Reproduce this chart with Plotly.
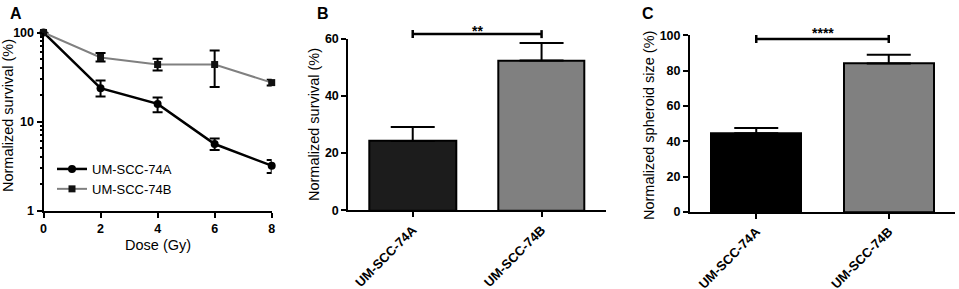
import plotly.graph_objects as go

# ---------------- data ----------------
dose = [0, 2, 4, 6, 8]
surv_74A = [100, 23.7, 15.8, 5.6, 3.2]
surv_74A_err_hi = [0, 5.2, 2.9, 0.85, 0.5]
surv_74A_err_lo = [0, 4.6, 3.1, 0.8, 0.55]
surv_74B = [100, 52.4, 43.7, 43.7, 27.4]
surv_74B_err_hi = [0, 6.3, 7.0, 19.1, 2.0]
surv_74B_err_lo = [0, 5.2, 6.3, 19.2, 2.0]

cell_lines = ["UM-SCC-74A", "UM-SCC-74B"]
clono_survival = [24.2, 52.4]
clono_err = [4.9, 6.1]
spheroid_size = [44.5, 84.1]
spheroid_err = [3.0, 4.9]

sig_B = "**"
sig_C = "****"

log_major = [1, 10, 100]
log_minor = [2, 3, 4, 5, 6, 7, 8, 9, 20, 30, 40, 50, 60, 70, 80, 90]

FONT = "Liberation Sans, Arial, sans-serif"
W, H = 959, 289


def px(xp):
    return xp / W


def py(yp):
    return 1 - yp / H


fig = go.Figure()

# ---- Panel A ----
fig.add_trace(go.Scatter(
    x=dose, y=surv_74A, name="UM-SCC-74A", mode="lines+markers",
    line=dict(color="black", width=2.5),
    marker=dict(symbol="circle", size=8, color="black"),
    error_y=dict(type="data", symmetric=False, array=surv_74A_err_hi,
                 arrayminus=surv_74A_err_lo, color="black", thickness=2, width=5),
    cliponaxis=False, xaxis="x", yaxis="y",
))
fig.add_trace(go.Scatter(
    x=dose, y=surv_74B, name="UM-SCC-74B", mode="lines+markers",
    line=dict(color="#808080", width=2),
    marker=dict(symbol="square", size=7, color="#111111"),
    error_y=dict(type="data", symmetric=False, array=surv_74B_err_hi,
                 arrayminus=surv_74B_err_lo, color="black", thickness=2, width=5),
    cliponaxis=False, xaxis="x", yaxis="y",
))

# ---- Panel B ----
fig.add_trace(go.Bar(
    x=cell_lines, y=clono_survival, width=0.67,
    marker=dict(color=["#1c1c1c", "#808080"], line=dict(color="black", width=2)),
    error_y=dict(type="data", symmetric=False, array=clono_err, arrayminus=[0, 0],
                 color="black", thickness=2, width=22),
    showlegend=False, xaxis="x2", yaxis="y2",
))

# ---- Panel C ----
fig.add_trace(go.Bar(
    x=cell_lines, y=spheroid_size, width=0.68,
    marker=dict(color=["#000000", "#808080"], line=dict(color="black", width=2)),
    error_y=dict(type="data", symmetric=False, array=spheroid_err, arrayminus=[0, 0],
                 color="black", thickness=2, width=22),
    showlegend=False, xaxis="x3", yaxis="y3",
))

tickfont = dict(family=FONT, size=12.5, color="black", weight="bold")
catfont = dict(family=FONT, size=13, color="black", weight="bold")
common = dict(showline=True, linewidth=2, linecolor="black", ticks="outside",
              ticklen=5, tickwidth=2, tickcolor="black", showgrid=False,
              zeroline=False, fixedrange=True, automargin=False)

dom_y1 = [py(210.7), py(32.5)]
dom_y2 = [py(210.3), py(38.7)]
dom_y3 = [py(212), py(35.3)]
rng_y2 = [0, 60]
rng_y3 = [0, 100]

fig.update_layout(
    template="none",
    width=W, height=H, autosize=False,
    margin=dict(l=0, r=0, t=0, b=0, pad=0, autoexpand=False),
    paper_bgcolor="white", plot_bgcolor="white",
    font=dict(family=FONT, color="black"),
    bargap=0,
    xaxis=dict(domain=[px(43.5), px(271.7)], range=[0, 8], tickvals=dose,
               anchor="y", tickfont=tickfont, **common),
    yaxis=dict(domain=dom_y1, type="log", range=[0, 2],
               tickvals=log_major, ticktext=[str(v) for v in log_major], anchor="x",
               tickfont=tickfont, **common),
    yaxis4=dict(domain=dom_y1, type="log", range=[0, 2], overlaying="y", anchor="x",
                side="left", tickvals=log_minor, showticklabels=False, ticks="outside",
                ticklen=3, tickwidth=1.5, tickcolor="black", showline=False,
                showgrid=False, zeroline=False, fixedrange=True, automargin=False),
    xaxis2=dict(domain=[px(348.3), px(606)], range=[-0.5, 1.5], tickangle=-45,
                anchor="y2", tickfont=catfont, **common),
    yaxis2=dict(domain=dom_y2, range=rng_y2,
                tickvals=[0, 20, 40, 60], anchor="x2", tickfont=tickfont, **common),
    xaxis3=dict(domain=[px(690), px(955)], range=[-0.5, 1.5], tickangle=-45,
                anchor="y3", tickfont=catfont, **common),
    yaxis3=dict(domain=dom_y3, range=rng_y3,
                tickvals=[0, 20, 40, 60, 80, 100], anchor="x3", tickfont=tickfont, **common),
    showlegend=True,
    legend=dict(x=px(52), y=py(154), xanchor="left", yanchor="top",
                bgcolor="rgba(0,0,0,0)", font=dict(family=FONT, size=13),
                tracegroupgap=0),
)

# invisible trace to activate the minor-tick overlay axis
fig.add_trace(go.Scatter(x=[None], y=[None], xaxis="x", yaxis="y4",
                         showlegend=False, hoverinfo="skip"))


def to_paper(v, dom, rng):
    return dom[0] + (v - rng[0]) / (rng[1] - rng[0]) * (dom[1] - dom[0])


# significance brackets
def bracket(xr, dom, rng, yv, txt, text_gap):
    yp = to_paper(yv, dom, rng)
    tick = 4 / H
    fig.add_shape(type="line", xref=xr, yref="paper", x0=0, x1=1, y0=yp, y1=yp,
                  line=dict(color="black", width=2.5))
    for xv in (0, 1):
        fig.add_shape(type="line", xref=xr, yref="paper", x0=xv, x1=xv,
                      y0=yp - tick, y1=yp + tick, line=dict(color="black", width=2.5))
    fig.add_annotation(xref=xr, yref="paper", x=0.5, y=yp + text_gap / H,
                       text="<b>" + txt + "</b>", showarrow=False,
                       font=dict(family=FONT, size=14), yanchor="middle")

bracket("x2", dom_y2, rng_y2, 61.6, sig_B, 3.5)
bracket("x3", dom_y3, rng_y3, 97.9, sig_C, 6.5)

# axis titles and panel letters
title_font = dict(family=FONT, size=14.5, color="black")
fig.add_annotation(xref="paper", yref="paper", x=px(8), y=py(116), text="Normalized survival (%)",
                   textangle=-90, showarrow=False, font=title_font, xanchor="center", yanchor="middle")
fig.add_annotation(xref="paper", yref="paper", x=px(158), y=py(245), text="Dose (Gy)",
                   showarrow=False, font=title_font, xanchor="center", yanchor="middle")
fig.add_annotation(xref="paper", yref="paper", x=px(314), y=py(125), text="Normalized survival (%)",
                   textangle=-90, showarrow=False, font=title_font, xanchor="center", yanchor="middle")
fig.add_annotation(xref="paper", yref="paper", x=px(649), y=py(126), text="Normalized spheroid size (%)",
                   textangle=-90, showarrow=False, font=title_font, xanchor="center", yanchor="middle")

letter_font = dict(family=FONT, size=16, color="black")
for lx, lt in ((15.5, "A"), (323, "B"), (648, "C")):
    fig.add_annotation(xref="paper", yref="paper", x=px(lx), y=py(13), text="<b>" + lt + "</b>",
                       showarrow=False, font=letter_font, xanchor="center", yanchor="middle")

fig.write_html("out.html", config={"displayModeBar": False},
               post_script="document.body.style.margin='0';")
